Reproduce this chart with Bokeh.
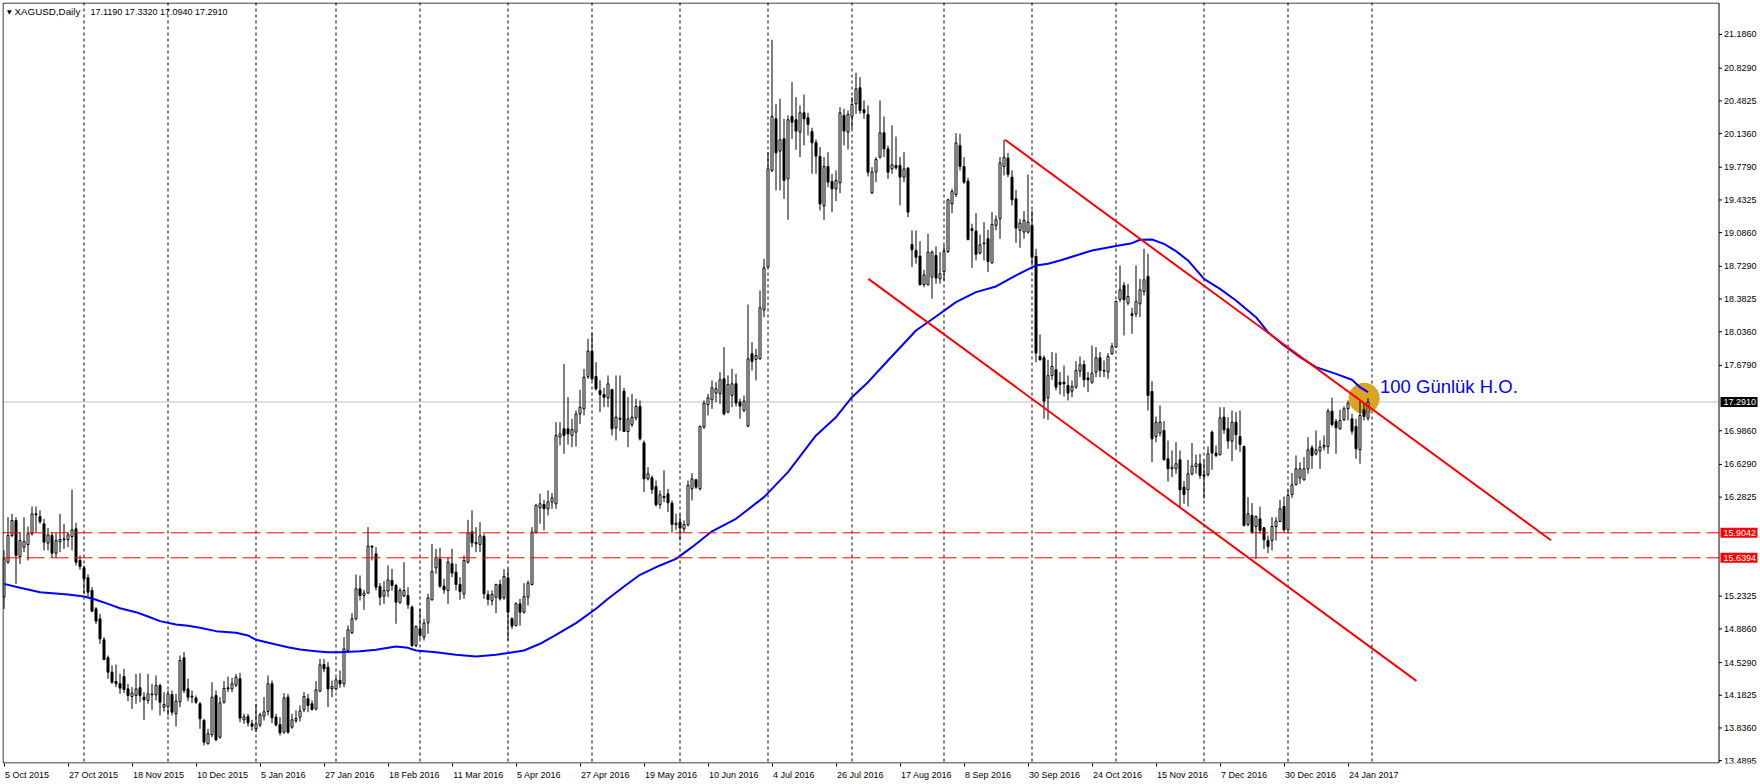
import pandas as pd
from bokeh.plotting import figure
from bokeh.models import (Span, Label, FixedTicker, Range1d, CustomJSTickFormatter)
from bokeh.embed import file_html
from bokeh.resources import INLINE
from bokeh.core.properties import value

# ---------------- data (XAGUSD daily) ----------------
open_ = [15.222,15.593,15.876,16.035,15.653,15.752,15.780,15.893,16.105,16.077,
15.999,15.794,15.876,15.688,15.809,15.830,15.833,15.865,15.946,15.611,
15.533,15.427,15.293,15.098,14.992,14.770,14.579,14.427,14.328,14.304,
14.381,14.250,14.169,14.180,14.261,14.162,14.127,14.187,14.187,14.286,
14.056,14.063,14.190,13.986,14.113,14.579,14.250,14.162,14.152,14.092,
13.915,13.668,13.763,14.180,13.738,14.109,14.250,14.250,14.289,14.357,
13.922,13.957,13.880,13.827,13.869,13.961,14.010,14.304,13.950,13.872,
13.791,14.162,13.844,13.915,13.950,14.028,14.145,14.092,14.038,14.226,
14.508,14.480,14.250,14.250,14.339,14.304,14.657,14.844,14.993,15.311,
15.240,15.265,15.763,15.681,15.335,15.233,15.286,15.399,15.346,15.166,
15.236,15.240,15.116,14.710,14.887,14.798,14.950,15.194,15.533,15.625,
15.339,15.293,15.576,15.487,15.357,15.258,15.593,15.915,15.788,15.781,
15.865,15.251,15.187,15.222,15.357,15.215,15.427,14.993,14.922,15.152,
15.063,15.222,15.357,15.911,16.169,16.204,16.159,16.229,16.212,16.918,
17.006,17.006,16.936,16.971,17.165,17.218,17.561,17.830,17.561,17.413,
17.370,17.335,17.423,17.017,17.105,17.406,16.978,17.052,17.123,17.243,
16.858,16.476,16.487,16.395,16.204,16.275,16.317,16.218,15.992,16.017,
15.946,15.989,16.371,16.466,16.371,17.024,17.264,17.314,17.385,17.378,
17.537,17.183,17.360,17.484,17.289,17.201,17.035,17.802,17.742,17.749,
18.268,18.720,19.745,20.292,19.950,20.080,19.656,20.317,20.282,20.151,
20.356,20.303,20.158,20.038,19.893,19.370,19.787,19.628,19.550,19.614,
20.328,20.151,20.317,20.451,20.621,20.388,20.338,19.508,19.727,19.886,
20.144,19.974,19.762,19.798,19.798,19.674,19.769,18.960,18.897,18.837,
18.536,18.533,18.614,18.844,18.597,18.674,18.886,19.391,19.490,20.010,
19.787,19.632,19.127,19.102,18.869,18.968,19.021,18.766,19.162,19.232,
19.787,19.876,19.674,19.444,19.109,19.091,19.091,19.162,18.833,17.773,
17.759,17.335,17.572,17.632,17.501,17.501,17.466,17.406,17.448,17.618,
17.688,17.544,17.501,17.607,17.759,17.625,17.607,17.801,17.872,18.377,
18.526,18.338,18.225,18.225,18.331,18.462,18.621,17.402,16.925,16.961,
16.989,16.689,16.583,16.583,16.678,16.388,16.360,16.530,16.607,16.636,
16.519,16.522,16.971,16.749,16.731,17.130,17.007,16.876,17.077,16.925,
16.819,15.993,16.088,15.971,16.052,15.957,15.823,15.823,15.971,16.024,
16.183,15.936,16.310,16.416,16.484,16.466,16.583,16.805,16.742,16.770,
16.812,16.819,17.194,17.084,17.007,17.102,17.219,17.112,17.031,16.784,
17.208,17.119]

high = [15.717,16.070,16.105,16.070,15.911,16.070,15.971,16.183,16.183,16.141,
16.052,15.957,15.911,15.900,16.105,15.999,15.911,16.363,16.010,15.664,
15.558,15.462,15.328,15.116,15.045,14.798,14.604,14.498,14.508,14.409,
14.462,14.304,14.268,14.409,14.416,14.215,14.409,14.304,14.392,14.304,
14.215,14.233,14.233,14.197,14.604,14.639,14.357,14.233,14.180,14.109,
13.933,13.827,14.321,14.233,14.162,14.332,14.381,14.367,14.409,14.420,
13.986,13.986,13.922,14.092,13.996,14.162,14.392,14.339,13.986,13.950,
14.205,14.197,13.986,14.021,14.074,14.215,14.197,14.127,14.332,14.568,
14.568,14.533,14.339,14.374,14.445,14.798,14.922,15.053,15.462,15.452,
15.300,15.964,15.770,15.752,15.371,15.392,15.558,15.523,15.364,15.321,
15.593,15.328,15.134,14.922,15.099,14.993,15.258,15.788,15.735,15.745,
15.417,15.646,15.735,15.576,15.434,15.664,16.042,16.141,15.964,16.017,
15.893,15.293,15.293,15.364,15.406,15.519,15.523,15.010,15.169,15.205,
15.371,15.399,15.964,16.212,16.318,16.254,16.353,16.325,17.077,17.077,
17.695,17.342,17.112,17.201,17.420,17.642,17.960,18.024,17.713,17.519,
17.441,17.572,17.430,17.572,17.572,17.441,17.342,17.377,17.324,17.307,
16.883,16.600,16.512,16.459,16.353,16.565,16.370,16.247,16.106,16.106,
16.035,16.459,16.537,16.476,17.042,17.307,17.377,17.519,17.501,17.607,
17.872,17.572,17.643,17.590,17.325,17.360,18.324,17.925,17.855,18.473,
18.808,19.939,21.130,20.451,20.504,20.292,20.328,20.681,20.522,20.434,
20.550,20.356,20.197,20.073,19.992,19.886,19.939,19.709,19.745,20.416,
20.398,20.381,20.522,20.780,20.734,20.487,20.434,19.780,19.886,20.487,
20.317,20.010,20.222,20.105,19.886,19.939,19.780,19.109,19.109,18.996,
18.692,19.074,18.897,18.939,18.879,18.950,19.444,19.550,20.140,20.133,
19.886,19.667,19.180,19.293,19.066,19.197,19.116,19.303,19.268,19.886,
20.070,19.929,19.745,19.540,19.232,19.314,19.702,19.321,18.915,18.006,
17.784,17.738,17.819,17.808,17.607,17.678,17.572,17.519,17.724,17.773,
17.731,17.607,17.890,17.872,17.819,17.731,17.808,17.915,18.367,18.738,
18.561,18.543,18.289,18.738,18.596,18.914,18.861,17.512,17.137,17.254,
17.088,16.883,16.777,16.865,16.777,16.452,16.678,16.855,16.734,16.742,
16.671,16.819,16.989,16.830,17.236,17.236,17.130,17.201,17.183,17.201,
16.830,16.282,16.219,16.088,16.183,15.964,15.876,16.070,16.070,16.254,
16.289,16.360,16.537,16.724,16.653,16.706,16.918,16.830,16.989,16.883,
16.936,17.219,17.335,17.112,17.208,17.243,17.307,17.165,17.112,17.307,
17.271,17.332]

low = [15.098,15.575,15.858,15.363,15.575,15.699,15.611,15.876,15.911,15.999,
15.717,15.717,15.639,15.639,15.699,15.734,15.752,15.717,15.558,15.512,
15.257,15.222,15.063,14.939,14.727,14.551,14.357,14.304,14.268,14.197,
14.205,14.120,14.039,14.092,14.109,13.922,14.092,14.028,14.127,13.968,
14.010,13.968,13.968,13.851,14.056,14.205,14.120,14.099,14.092,13.827,
13.650,13.661,13.738,13.696,13.721,14.092,14.215,14.215,14.268,13.897,
13.880,13.851,13.809,13.791,13.844,13.915,13.968,13.887,13.851,13.756,
13.774,13.774,13.827,13.890,13.904,14.003,14.003,14.021,14.021,14.215,
14.427,14.056,14.162,14.233,14.261,14.268,14.639,14.834,14.975,15.187,
15.088,15.258,15.611,15.293,15.134,15.152,15.222,15.293,14.940,15.152,
15.222,15.099,14.692,14.692,14.781,14.763,14.834,15.187,15.470,15.321,
15.258,15.152,15.434,15.293,15.194,15.205,15.576,15.752,15.699,15.699,
15.205,15.134,15.134,15.053,15.187,15.194,14.763,14.887,14.911,14.922,
15.046,15.134,15.346,15.894,16.000,15.929,16.088,16.159,16.159,16.830,
16.741,16.840,16.812,16.819,17.059,17.148,17.536,17.519,17.413,17.183,
17.236,17.236,16.936,16.883,16.982,16.971,16.812,17.024,17.095,16.883,
16.335,16.459,16.317,16.183,16.159,16.229,16.123,15.904,15.936,15.823,
15.911,15.971,16.247,16.371,16.353,17.006,17.148,17.219,17.289,17.272,
17.148,17.173,17.236,17.243,17.113,17.183,17.024,17.625,17.519,17.738,
18.190,18.713,19.727,19.533,19.533,19.444,19.222,20.080,19.964,19.886,
20.010,20.116,19.709,19.709,19.321,19.222,19.568,19.303,19.420,19.504,
20.010,19.967,20.186,20.345,20.345,20.292,19.681,19.497,19.621,19.868,
19.886,19.656,19.709,19.752,19.374,19.621,19.250,18.720,18.756,18.526,
18.508,18.526,18.385,18.544,18.544,18.579,18.869,19.293,19.462,19.745,
19.603,19.003,18.713,18.791,18.855,18.791,18.667,18.756,19.109,19.021,
19.692,19.674,19.374,18.978,18.925,19.021,19.074,18.738,17.713,17.731,
17.113,17.102,17.526,17.413,17.370,17.349,17.307,17.342,17.430,17.554,
17.448,17.395,17.483,17.554,17.554,17.554,17.536,17.791,17.865,18.349,
17.996,18.314,18.013,18.190,18.190,18.420,17.201,16.653,16.865,16.925,
16.671,16.448,16.494,16.530,16.176,16.212,16.183,16.512,16.530,16.476,
16.265,16.501,16.572,16.706,16.724,16.954,16.795,16.664,16.784,16.759,
15.971,15.971,15.894,15.629,15.894,15.735,15.689,15.717,15.823,16.017,
15.911,15.929,16.275,16.406,16.423,16.459,16.530,16.583,16.724,16.583,
16.777,16.742,17.031,16.742,16.996,17.088,17.095,16.946,16.689,16.636,
17.095,17.094]

close = [15.628,15.876,16.035,15.664,15.823,15.812,15.893,16.105,16.095,16.024,
15.805,15.883,15.688,15.823,15.833,15.840,15.883,15.936,15.593,15.547,
15.416,15.275,15.074,14.968,14.780,14.561,14.427,14.321,14.304,14.258,
14.243,14.180,14.205,14.250,14.180,14.134,14.197,14.197,14.286,14.109,
14.084,14.197,14.003,14.120,14.551,14.233,14.162,14.173,14.109,13.933,
13.685,13.774,14.162,13.710,14.102,14.254,14.261,14.304,14.374,13.940,
13.954,13.890,13.855,13.880,13.975,14.007,14.304,13.943,13.869,13.784,
14.155,13.791,13.922,13.936,14.014,14.169,14.074,14.031,14.240,14.505,
14.462,14.250,14.275,14.346,14.304,14.674,14.876,14.993,15.311,15.240,
15.265,15.763,15.752,15.328,15.222,15.293,15.406,15.346,15.169,15.293,
15.293,15.141,14.710,14.911,14.816,14.947,15.215,15.494,15.639,15.339,
15.300,15.593,15.477,15.357,15.282,15.611,15.904,15.798,15.802,15.872,
15.258,15.198,15.251,15.357,15.205,15.441,15.063,14.915,15.152,15.063,
15.229,15.371,15.911,16.194,16.212,16.159,16.233,16.275,16.936,16.953,
16.936,16.953,16.999,17.165,17.236,17.554,17.830,17.536,17.430,17.370,
17.342,17.483,17.006,17.130,17.119,16.978,17.112,17.130,17.243,16.900,
16.476,16.529,16.363,16.201,16.307,16.289,16.222,15.992,16.007,15.954,
15.992,16.406,16.476,16.388,17.031,17.278,17.335,17.441,17.431,17.526,
17.166,17.476,17.484,17.279,17.247,17.300,17.749,17.720,17.784,18.289,
18.713,19.762,20.317,19.932,20.070,19.639,20.282,20.257,20.162,20.356,
20.292,20.232,20.038,19.897,19.391,19.787,19.621,19.550,19.639,20.356,
20.162,20.338,20.444,20.610,20.381,20.356,19.727,19.727,19.861,20.144,
19.974,19.727,19.805,19.773,19.674,19.762,19.303,18.904,18.826,18.533,
18.639,18.879,18.879,18.604,18.650,18.886,19.434,19.522,20.038,19.787,
19.621,19.013,19.109,18.855,18.957,18.975,18.780,19.172,19.222,19.826,
19.886,19.702,19.434,19.134,19.187,19.215,19.197,18.826,17.809,17.738,
17.300,17.570,17.667,17.448,17.476,17.483,17.385,17.455,17.625,17.685,
17.526,17.526,17.597,17.759,17.625,17.618,17.773,17.879,18.356,18.480,
18.374,18.409,18.208,18.356,18.480,18.586,17.360,16.900,17.077,17.077,
16.678,16.583,16.600,16.636,16.360,16.310,16.530,16.611,16.636,16.512,
16.505,16.742,16.749,16.724,17.123,16.996,16.876,17.077,16.943,16.840,
15.982,16.106,15.911,16.077,15.929,15.830,15.759,15.971,16.028,16.159,
15.936,16.300,16.413,16.583,16.583,16.583,16.784,16.724,16.784,16.812,
16.830,17.194,17.052,17.017,17.095,17.219,17.278,16.982,16.795,17.148,
17.137,17.291]

# 100-day moving average, read at selected bars
ma_bar = [0,4,9,16,20,23,26,29,33,36,39,43,46,49,53,58,61,63,68,71,74,78,81,84,
          89,93,98,101,103,108,113,118,123,126,130,134,138,143,148,151,155,159,164,
          168,172,177,183,190,196,203,208,212,216,221,228,233,238,243,248,253,258,
          261,264,268,272,278,282,284,287,290,293,296,300,304,308,313,316,320,324,
          328,333,337,339,341]
ma_val = [15.363,15.321,15.275,15.250,15.229,15.194,15.151,15.105,15.063,15.017,14.968,
          14.932,14.918,14.897,14.862,14.844,14.816,14.770,14.720,14.692,14.667,14.650,
          14.639,14.639,14.650,14.664,14.699,14.685,14.657,14.639,14.611,14.593,14.611,
          14.629,14.657,14.728,14.823,14.947,15.099,15.205,15.335,15.459,15.558,15.628,
          15.752,15.920,16.053,16.282,16.547,16.936,17.130,17.342,17.501,17.731,18.049,
          18.197,18.349,18.455,18.515,18.632,18.738,18.756,18.790,18.844,18.897,18.943,
          18.974,19.010,19.013,18.967,18.890,18.791,18.596,18.490,18.367,18.190,18.031,
          17.890,17.766,17.660,17.589,17.526,17.448,17.395]

# channel trend lines (bar, price) end points
upper_bar = [250.25, 386.75]
upper_price = [20.070, 15.825]
lower_bar = [216.1, 353.1]
lower_price = [18.596, 14.335]

support_levels = [15.9042, 15.6394]
last_price = 17.2910
title_symbol = "XAGUSD,Daily"
title_ohlc = "17.1190 17.3320 17.0940 17.2910"

# price scale labels (the ones hidden under the price tags are left out)
price_ticks = [21.1860, 20.8290, 20.4825, 20.1360, 19.7790, 19.4325, 19.0860, 18.7290,
               18.3825, 18.0360, 17.6790, 16.9860, 16.6290, 16.2825,
               15.2325, 14.8860, 14.5290, 14.1825, 13.8360, 13.4895]

holidays = ["2015-12-25", "2016-01-01", "2016-03-25", "2016-12-26", "2017-01-02"]
dates = pd.bdate_range("2015-10-05", "2017-01-31", freq="C", holidays=holidays)

note_text = "100 Günlük H.O."
note_bar, note_price = 344.0, 17.456
mark_bar, mark_price = 340.05, 17.33

# ---------------- derived ----------------
n = min(len(dates), len(close), len(open_), len(high), len(low))
bars = list(range(n))
dates = list(dates[:n])

label_bars = list(range(0, n, 16))
label_text = [f"{dates[b].day} {dates[b].strftime('%b %Y')}" for b in label_bars]

month_starts = [i for i in range(1, n) if dates[i].month != dates[i - 1].month]
month_starts.append(n)  # next month starts right after the last bar

up = [i for i in bars if close[i] >= open_[i]]
dn = [i for i in bars if close[i] < open_[i]]

PX_PER_BAR = 4.0
FW, FH = 1758, 761
x_start = -0.375
x_end = x_start + FW / PX_PER_BAR
y_start, y_end = 13.459, 21.525
dy = (y_end - y_start) / FH          # price per pixel
dx = 1.0 / PX_PER_BAR                # bars per pixel

def page_x(px):      # pixel column -> bar coordinate
    return x_start + (px - 2) * dx

def page_y(py):      # pixel row -> price coordinate
    return y_end - (py - 2) * dy

scale_x = page_x(1718.5)   # price scale line

# approximate text widths (Arial/Liberation metrics) so that the date labels
# start at their tick, like the terminal draws them
_w = {' ': 278, 'O': 778, 'c': 500, 't': 278, 'N': 722, 'o': 556, 'v': 500, 'D': 722,
      'e': 556, 'J': 500, 'a': 556, 'n': 556, 'F': 611, 'b': 556, 'M': 833, 'r': 333,
      'A': 667, 'p': 556, 'y': 500, 'u': 556, 'l': 222, 'g': 556, 'S': 667, 's': 500}
DATE_FS = 9.0
def text_w(s):
    return sum(_w.get(ch, 556) for ch in s) * DATE_FS / 1000.0
label_centers = [b + (text_w(t) / 2 + 1.0) * dx for b, t in zip(label_bars, label_text)]

p = figure(frame_width=FW, frame_height=FH,
           x_range=Range1d(x_start, x_end), y_range=Range1d(y_start, y_end),
           output_backend="svg", toolbar_location=None, y_axis_location="right",
           min_border_left=2, min_border_top=2, min_border_right=0, min_border_bottom=21)
p.background_fill_color = "white"
p.border_fill_color = "white"
p.outline_line_color = None
p.xgrid.visible = False
p.ygrid.visible = False
p.yaxis.visible = False

# time axis: tick marks at the dates (minor ticks), labels start at the tick
p.xaxis.ticker = FixedTicker(ticks=label_centers, minor_ticks=label_bars)
p.xaxis.formatter = CustomJSTickFormatter(
    args=dict(centers=label_centers, labels=label_text),
    code="""
for (let i = 0; i < centers.length; i++) {
  if (Math.abs(centers[i] - tick) < 1e-6) return labels[i];
}
return "";
""")
p.xaxis.major_tick_line_color = None
p.xaxis.major_tick_out = 0
p.xaxis.major_tick_in = 0
p.xaxis.minor_tick_line_color = "black"
p.xaxis.minor_tick_out = 3
p.xaxis.minor_tick_in = 0
p.xaxis.major_label_standoff = 3
p.xaxis.major_label_text_font = "Liberation Sans"
p.xaxis.major_label_text_font_size = "9px"
p.xaxis.major_label_text_color = "black"
p.xaxis.axis_line_color = None

# month separators
for b in month_starts:
    p.add_layout(Span(location=b, dimension="height", line_color="black",
                      line_dash="3 3", line_width=1, level="underlay"))

# bid line (stops at the price scale)
p.segment(x0=[x_start], y0=[last_price], x1=[scale_x], y1=[last_price],
          line_color="#C0C0C0", line_width=1)

# highlight circle
p.scatter(x=[mark_bar], y=[mark_price], size=31, marker="circle",
          fill_color="#DAA520", line_color=None)

# candles
p.segment(x0=bars, y0=[low[i] for i in bars], x1=bars, y1=[high[i] for i in bars],
          line_color="black", line_width=1)
p.vbar(x=up, width=0.5, top=[close[i] for i in up], bottom=[open_[i] for i in up],
       fill_color="white", line_color="black", line_width=1)
p.vbar(x=dn, width=0.5, top=[open_[i] for i in dn], bottom=[close[i] for i in dn],
       fill_color="black", line_color="black", line_width=1)

# moving average
p.line(ma_bar, ma_val, line_color="#0000FF", line_width=2)

# support lines (stop at the price scale)
p.segment(x0=[x_start] * len(support_levels), y0=support_levels,
          x1=[scale_x] * len(support_levels), y1=support_levels,
          line_color="#FF0000", line_dash="18 6", line_width=1)

# channel
p.line(upper_bar, upper_price, line_color="#FF0000", line_width=2)
p.line(lower_bar, lower_price, line_color="#FF0000", line_width=2)

# note
p.text(x=[note_bar], y=[note_price], text=[note_text], text_font=value("Liberation Sans"),
       text_font_size="18.5px", text_color="#0000FF", text_align="left",
       text_baseline="middle")

# chart border (left, top, bottom) and price scale line
left_b = page_x(2.5)
top_b = page_y(2.5)
bot_b = page_y(762.5)
p.segment(x0=[left_b, left_b, left_b, scale_x], y0=[bot_b, top_b, bot_b, bot_b],
          x1=[left_b, scale_x, scale_x, scale_x], y1=[top_b, top_b, bot_b, top_b],
          line_color="black", line_width=1)

# price scale: ticks and labels
p.segment(x0=[scale_x] * len(price_ticks), y0=price_ticks,
          x1=[scale_x + 3 * dx] * len(price_ticks), y1=price_ticks,
          line_color="black", line_width=1)
p.text(x=[scale_x + 5 * dx] * len(price_ticks), y=price_ticks,
       text=[f"{v:.4f}" for v in price_ticks], text_font=value("Liberation Sans"),
       text_font_size="9px", text_color="black", text_align="left", text_baseline="middle")

# price tags on the scale
tag_levels = [last_price] + support_levels
tag_colors = ["black"] + ["#FF0000"] * len(support_levels)
p.quad(left=[scale_x + 1.5 * dx] * len(tag_levels), right=[scale_x + 38.5 * dx] * len(tag_levels),
       bottom=[v - 5 * dy for v in tag_levels], top=[v + 5 * dy for v in tag_levels],
       fill_color=tag_colors, line_color=None)
p.text(x=[scale_x + 4.5 * dx] * len(tag_levels), y=tag_levels,
       text=[f"{v:.4f}" for v in tag_levels], text_font=value("Liberation Sans"),
       text_font_size="9px", text_color="white", text_align="left", text_baseline="middle")

# title (inside the chart, top-left)
title_y = page_y(11)
p.add_layout(Label(x=page_x(6.5), y=title_y, text="\u25bc",
                   text_font="DejaVu Sans", text_font_size="6px", text_color="black",
                   text_baseline="middle", text_align="left"))
p.add_layout(Label(x=page_x(14), y=title_y, text=title_symbol,
                   text_font="Liberation Sans", text_font_size="9.8px", text_color="black",
                   text_baseline="middle", text_align="left"))
p.add_layout(Label(x=page_x(90), y=title_y, text=title_ohlc,
                   text_font="Liberation Sans", text_font_size="9px", text_color="black",
                   text_baseline="middle", text_align="left"))

open("out.html", "w").write(file_html(p, INLINE))
